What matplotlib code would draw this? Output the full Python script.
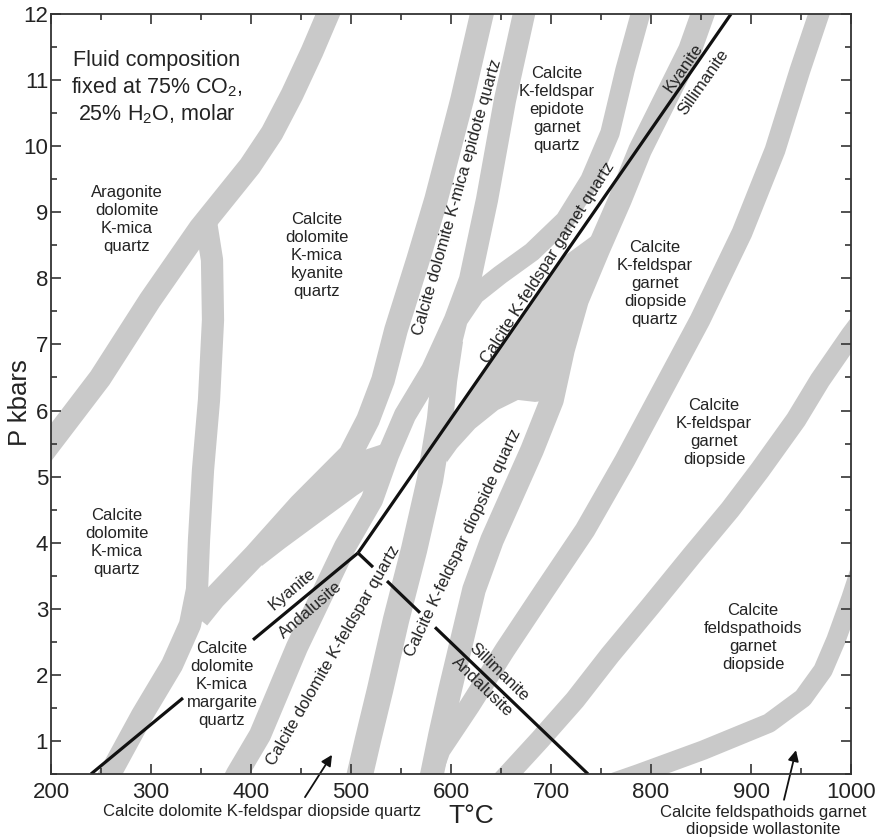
import numpy as np
import matplotlib
matplotlib.use("Agg")
import matplotlib.pyplot as plt
from matplotlib.ticker import MultipleLocator

plt.rcParams['font.family'] = ['Liberation Sans', 'DejaVu Sans']
plt.rcParams['mathtext.fontset'] = 'custom'
plt.rcParams['mathtext.rm'] = 'Liberation Sans'
plt.rcParams['mathtext.it'] = 'Liberation Sans:italic'

# ---------------- data (T in deg C, P in kbar) ----------------
# reaction bands (centre lines)
bandA_T = [179, 249, 299, 349, 374, 399, 421, 441, 461, 481]
bandA_P = [5.10, 6.49, 7.67, 8.76, 9.23, 9.70, 10.20, 10.78, 11.43, 12.14]

bandB_T = [355, 361, 362, 358, 352, 348, 346, 339, 321, 291, 259, 249]
bandB_P = [8.85, 8.28, 7.37, 6.16, 5.10, 4.04, 3.29, 2.76, 2.15, 1.39, 0.50, 0.23]

bandC1_T = [633, 611, 585, 567, 545, 532, 517, 499, 449, 404, 363, 347]
bandC1_P = [12.14, 10.70, 9.19, 8.28, 7.22, 6.46, 5.86, 5.33, 4.57, 3.81, 3.16, 2.86]

bandE_T = [675, 654, 636, 619, 604, 581, 554, 537, 521, 494, 446, 409, 386, 377]
bandE_P = [12.14, 10.70, 9.19, 7.98, 7.37, 6.61, 5.93, 5.33, 4.65, 3.94, 2.42, 1.09, 0.50, 0.23]

bandF_T = [792, 774, 759, 739, 714, 681, 649, 624, 607, 597, 592]
bandF_P = [12.14, 11.15, 10.20, 9.49, 8.88, 8.40, 8.05, 7.75, 7.37, 6.77, 6.24]

bandN_T = [599, 593, 589, 579, 563, 545, 529, 517, 509, 505]
bandN_P = [7.07, 6.46, 5.86, 4.95, 3.89, 2.83, 1.77, 1.02, 0.50, 0.23]

bandG_T = [855, 839, 814, 789, 769, 747, 726, 712, 701, 681, 661, 641, 623, 611, 599, 589, 581, 577]
bandG_P = [12.14, 11.46, 10.70, 9.94, 9.19, 8.43, 7.67, 6.92, 6.16, 5.40, 4.72, 4.04, 3.29, 2.53, 1.77, 1.09, 0.50, 0.23]

bandJ_T = [971, 949, 924, 891, 849, 809, 774, 734, 694, 654, 619, 589, 574]
bandJ_P = [12.14, 11.15, 9.94, 8.69, 7.37, 6.24, 5.25, 4.19, 3.29, 2.38, 1.54, 0.86, 0.23]

bandI_T = [1019, 1000, 969, 945, 909, 879, 841, 799, 759, 724, 689, 652, 644]
bandI_P = [7.52, 7.14, 6.46, 5.86, 5.10, 4.50, 3.81, 3.03, 2.30, 1.62, 1.02, 0.41, 0.23]

bandK_T = [749, 787, 852, 918, 952, 972, 985, 1000, 1014]
bandK_P = [0.30, 0.50, 0.86, 1.27, 1.65, 2.07, 2.53, 3.16, 3.81]

#              A     B   C1   E   F   N   G   J   I   K
band_widths = [16.5, 16, 17, 16, 14, 19, 17, 15, 15, 14]

# merged (widened) parts of the band network
wedgeD_T = [404, 449, 499, 535, 517, 506, 469, 434, 411]
wedgeD_P = [3.81, 4.57, 5.33, 5.51, 4.83, 4.72, 4.31, 3.92, 3.65]

wedgeG_T = [756, 747, 726, 712, 701, 684, 667, 647, 624, 606, 596, 589, 603, 639, 679, 711]
wedgeG_P = [8.81, 8.43, 7.67, 6.92, 6.16, 6.13, 6.16, 6.01, 5.73, 5.43, 5.22, 5.40, 5.93, 6.73, 7.60, 8.31]

# Al2SiO5 reactions (segments, gaps where labels sit)
kyand_T = [[240, 332], [402, 507]]
kyand_P = [[0.50, 1.65], [2.53, 3.845]]
kysil_T = [507, 880]
kysil_P = [3.845, 12.0]
siland_T = [[507, 522], [536, 569], [584, 737]]
siland_P = [[3.845, 3.63], [3.42, 2.94], [2.72, 0.50]]

# field labels
field_labels = ["Aragonite\ndolomite\nK-mica\nquartz",
                "Calcite\ndolomite\nK-mica\nkyanite\nquartz",
                "Calcite\ndolomite\nK-mica\nquartz",
                "Calcite\ndolomite\nK-mica\nmargarite\nquartz",
                "Calcite\nK-feldspar\nepidote\ngarnet\nquartz",
                "Calcite\nK-feldspar\ngarnet\ndiopside\nquartz",
                "Calcite\nK-feldspar\ngarnet\ndiopside",
                "Calcite\nfeldspathoids\ngarnet\ndiopside"]
field_T = [276, 466, 266, 371, 706, 804, 863, 902]
field_P = [8.89, 8.35, 4.01, 1.86, 10.55, 7.92, 5.66, 2.57]

# labels written along bands / reaction lines
rot_labels = ["Calcite dolomite K-mica epidote quartz",
              "Calcite K-feldspar garnet quartz",
              "Calcite dolomite K-feldspar quartz",
              "Calcite K-feldspar diopside quartz",
              "Kyanite", "Andalusite", "Sillimanite", "Andalusite",
              "Kyanite", "Sillimanite"]
rot_T = [606, 697, 482, 612, 441, 459, 648, 631, 832, 852]
rot_P = [9.22, 8.23, 2.30, 4.00, 3.29, 2.98, 2.04, 1.82, 11.18, 10.97]
rot_angle = [74, 57.5, 60, 64.5, 40, 41, -44, -44, 55, 55]

note_text = ["Calcite dolomite K-feldspar diopside quartz",
             "Calcite feldspathoids garnet\ndiopside wollastonite"]
note_T = [411, 912]
note_P = [-0.07, -0.21]
arrow_from_T = [454, 933]
arrow_from_P = [0.15, 0.11]
arrow_to_T = [481, 945]
arrow_to_P = [0.79, 0.86]

x_ticks = list(range(200, 1001, 100))
y_ticks = list(range(1, 13))

# ---------------- figure ----------------
GRAY = '#c9c9c9'
TXT = '#232323'

fig = plt.figure(figsize=(8.76, 8.4), dpi=100)
ax = fig.add_axes([51/876, 66/840, 800/876, 760/840])
ax.set_xlim(200, 1000)
ax.set_ylim(0.5, 12)

bands = [(bandA_T, bandA_P), (bandB_T, bandB_P), (bandC1_T, bandC1_P),
         (bandE_T, bandE_P), (bandF_T, bandF_P), (bandN_T, bandN_P),
         (bandG_T, bandG_P), (bandJ_T, bandJ_P), (bandI_T, bandI_P),
         (bandK_T, bandK_P)]
for (bt, bp), lw in zip(bands, band_widths):
    ax.plot(bt, bp, color=GRAY, lw=lw, solid_capstyle='butt',
            solid_joinstyle='round', zorder=1)
for wt, wp in [(wedgeD_T, wedgeD_P), (wedgeG_T, wedgeG_P)]:
    ax.fill(wt, wp, color=GRAY, lw=0, zorder=1)

LK = dict(color='#111111', lw=2.3, solid_capstyle='butt', zorder=3)
for t, p in zip(kyand_T, kyand_P):
    ax.plot(t, p, **LK)
ax.plot(kysil_T, kysil_P, **LK)
for t, p in zip(siland_T, siland_P):
    ax.plot(t, p, **LK)

for s, t, p in zip(field_labels, field_T, field_P):
    ax.text(t, p, s, ha='center', va='center', fontsize=12, color=TXT,
            linespacing=1.25, zorder=4)

for s, t, p, a in zip(rot_labels, rot_T, rot_P, rot_angle):
    ax.text(t, p, s, ha='center', va='center', fontsize=12, color=TXT,
            rotation=a, rotation_mode='anchor', zorder=4)

ax.text(306, 10.88, "Fluid composition\nfixed at 75% CO$_\\mathregular{2}$,\n25% H$_\\mathregular{2}$O, molar",
        ha='center', va='center', fontsize=15.5, color=TXT, linespacing=1.2, zorder=4)

for s, t, p in zip(note_text, note_T, note_P):
    ax.text(t, p, s, ha='center', va='center', fontsize=12, color=TXT,
            linespacing=1.2, clip_on=False)
for ft, fp, tt, tp in zip(arrow_from_T, arrow_from_P, arrow_to_T, arrow_to_P):
    ax.annotate('', xy=(tt, tp), xytext=(ft, fp), annotation_clip=False,
                arrowprops=dict(arrowstyle='-|>', color='#111111', lw=1.3,
                                mutation_scale=16, shrinkA=0, shrinkB=0))

ax.set_xticks(x_ticks)
ax.set_yticks(y_ticks)
ax.xaxis.set_minor_locator(MultipleLocator(50))
ax.yaxis.set_minor_locator(MultipleLocator(0.5))
ax.tick_params(which='both', direction='in', top=True, right=True,
               colors='#333333', labelcolor=TXT, labelsize=16)
ax.tick_params(which='major', length=7, width=1.2)
ax.tick_params(which='minor', length=4.5, width=1.2)
ax.tick_params(axis='x', pad=6)
ax.tick_params(axis='y', pad=2)
for sp in ax.spines.values():
    sp.set_color('#333333')
    sp.set_linewidth(1.3)
    sp.set_zorder(5)

ax.text((471 - 51) / 800, -0.055, "T°C", transform=ax.transAxes,
        ha='center', va='center', fontsize=19, color=TXT)
ax.text(-0.039, 0.488, "P kbars", transform=ax.transAxes, rotation=90,
        ha='center', va='center', fontsize=18.5, color=TXT)

fig.savefig('out.png', dpi=100, facecolor='white')
